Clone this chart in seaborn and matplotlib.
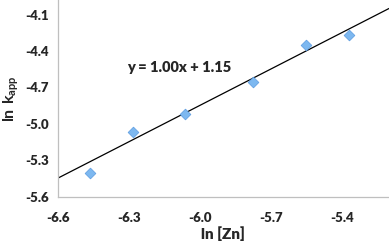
import matplotlib
matplotlib.use("Agg")
import matplotlib.pyplot as plt
import seaborn as sns
import numpy as np
import pandas as pd

ln_zn = [-6.463, -6.281, -6.062, -5.775, -5.551, -5.370]
ln_kapp = [-5.406, -5.068, -4.920, -4.656, -4.351, -4.269]
slope = 1.00
intercept = 1.15
x_ticks = [-6.6, -6.3, -6.0, -5.7, -5.4]
y_ticks = [-5.6, -5.3, -5.0, -4.7, -4.4, -4.1]
equation = "y = 1.00x + 1.15"

sns.set_theme(style="white")
plt.rcParams['font.family'] = ['Lato', 'DejaVu Sans']
plt.rcParams['mathtext.fontset'] = 'custom'
plt.rcParams['mathtext.rm'] = 'Lato'
plt.rcParams['mathtext.bf'] = 'Lato:bold'

fig = plt.figure(figsize=(3.89, 2.42), dpi=100)
ax = fig.add_axes([0.148, 0.188, 0.852, 0.812])

df = pd.DataFrame({"x": ln_zn, "y": ln_kapp})
xlim = (-6.6, -5.2)
ylim = (-5.6, -3.98)

xs = np.array(xlim)
ax.plot(xs, slope * xs + intercept, color="black", lw=0.9, zorder=2)
sns.scatterplot(data=df, x="x", y="y", marker="D", s=30, color="#7DB8F0",
                edgecolor="#5A9BE0", linewidth=0.5, ax=ax, zorder=3)

ax.set_xlim(*xlim)
ax.set_ylim(*ylim)
ax.set_xticks(x_ticks)
ax.set_yticks(y_ticks)
ax.set_xticklabels([f"{t:.1f}" for t in x_ticks], fontweight="heavy", fontsize=9.5)
ax.set_yticklabels([f"{t:.1f}" for t in y_ticks], fontweight="heavy", fontsize=9.5)
ax.tick_params(axis='x', length=0, pad=11)
ax.tick_params(axis='y', length=0, pad=6)

for s in ["top", "right"]:
    ax.spines[s].set_visible(False)
for s in ["left", "bottom"]:
    ax.spines[s].set_color("#BFBFBF")
    ax.spines[s].set_linewidth(0.9)

ax.set_xlabel("ln [Zn]", fontweight="heavy", fontsize=11, labelpad=2)
ax.set_ylabel(r"$\mathbf{ln\ k_{app}}$", fontsize=11.5, labelpad=3)

ax.text(-6.305, -4.533, equation, fontweight="heavy", fontsize=10.5, ha="left", va="center")

fig.savefig("out.png", dpi=100)
